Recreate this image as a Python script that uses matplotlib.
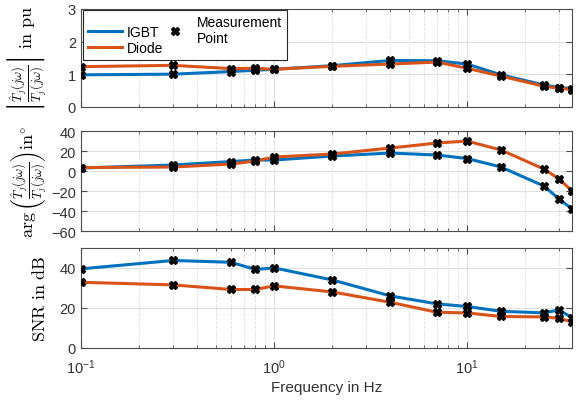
import matplotlib
matplotlib.use('Agg')
import matplotlib.pyplot as plt
from matplotlib.lines import Line2D

plt.rcParams['font.family'] = ['Liberation Sans', 'DejaVu Sans']
plt.rcParams['mathtext.fontset'] = 'cm'

# Data
freq = [0.1, 0.3, 0.6, 0.8, 1, 2, 4, 7, 10, 15, 25, 30, 35]

mag_igbt = [0.98, 1.0, 1.08, 1.12, 1.15, 1.26, 1.42, 1.41, 1.31, 0.98, 0.67, 0.59, 0.56]
mag_diode = [1.23, 1.27, 1.17, 1.18, 1.15, 1.24, 1.31, 1.37, 1.18, 0.94, 0.63, 0.57, 0.53]

phase_igbt = [3, 6, 9.5, 11, 11, 15, 18, 16, 12.5, 4, -15, -28, -38]
phase_diode = [3.5, 4, 7, 10, 14, 17, 23, 28, 30, 21, 2, -8, -20]

snr_igbt = [39.5, 43.7, 42.8, 39.2, 40, 34, 26, 22, 20.7, 18.3, 17.5, 19, 15]
snr_diode = [32.8, 31.5, 29.2, 29.2, 31, 28, 22.8, 17.8, 17.5, 15.7, 15.5, 14.8, 13]

c_igbt = '#0072BD'
c_diode = '#D95319'
edge = '#4d4d4d'
txt = '#333333'

fig = plt.figure(figsize=(5.82, 4.10), dpi=100)
left, width = 0.139, 0.844
ax1 = fig.add_axes([left, 0.737, width, 0.239])
ax2 = fig.add_axes([left, 0.434, width, 0.244])
ax3 = fig.add_axes([left, 0.149, width, 0.244])

panels = [
    (ax1, mag_igbt, mag_diode, (0, 3), [0, 1, 2, 3],
     r'$\left|\frac{\hat{T}_j(j\omega)}{T_j(j\omega)}\right|\ \mathrm{in\ pu}$'),
    (ax2, phase_igbt, phase_diode, (-60, 40), [-60, -40, -20, 0, 20, 40],
     r'$\arg\left(\frac{\hat{T}_j(j\omega)}{T_j(j\omega)}\right)\mathrm{in}^{\circ}$'),
    (ax3, snr_igbt, snr_diode, (0, 50), [0, 20, 40],
     r'$\mathrm{SNR\ in\ dB}$'),
]

for ax, y_igbt, y_diode, ylim, yticks, ylabel in panels:
    ax.plot(freq, y_igbt, color=c_igbt, linewidth=2.2, zorder=3)
    ax.plot(freq, y_diode, color=c_diode, linewidth=2.2, zorder=3)
    ax.plot(freq, y_igbt, linestyle='none', marker='X', markersize=6,
            color='black', zorder=4)
    ax.plot(freq, y_diode, linestyle='none', marker='X', markersize=6,
            color='black', zorder=4)
    ax.set_xscale('log')
    ax.set_xlim(0.1, 35)
    ax.set_ylim(*ylim)
    ax.set_yticks(yticks)
    ax.set_ylabel(ylabel, fontsize=13, color='black')
    ax.yaxis.set_label_coords(-0.065, 0.5)
    ax.grid(True, which='major', color='#e0e0e0', linewidth=0.8)
    ax.grid(True, which='minor', axis='x', color='#cccccc', linestyle=':', linewidth=0.7)
    ax.set_axisbelow(True)
    ax.tick_params(which='both', direction='in', top=True, right=True,
                   colors=edge, labelcolor=txt, labelsize=10.5)
    ax.tick_params(which='major', length=4)
    ax.tick_params(which='minor', length=2)
    ax.tick_params(axis='x', pad=7)
    for s in ax.spines.values():
        s.set_color(edge)
        s.set_linewidth(0.8)
    if ax is not ax3:
        ax.tick_params(labelbottom=False)

ax3.set_xlabel('Frequency in Hz', fontsize=11, color=txt, labelpad=3)

handles = [
    Line2D([], [], color=c_igbt, linewidth=2.2, label='IGBT'),
    Line2D([], [], color=c_diode, linewidth=2.2, label='Diode'),
    Line2D([], [], linestyle='none', marker='X', markersize=6, color='black',
           label='Measurement\nPoint'),
]
leg = ax1.legend(handles=handles, ncol=2, loc='upper left', fontsize=10,
                 bbox_to_anchor=(0.005, 0.985), borderaxespad=0.0,
                 fancybox=False, framealpha=1, edgecolor='#262626',
                 handlelength=2.4, columnspacing=-0.4, handletextpad=0.4,
                 labelspacing=0.15, borderpad=0.35)
leg.get_frame().set_linewidth(0.8)

fig.savefig('out.png', dpi=100)
